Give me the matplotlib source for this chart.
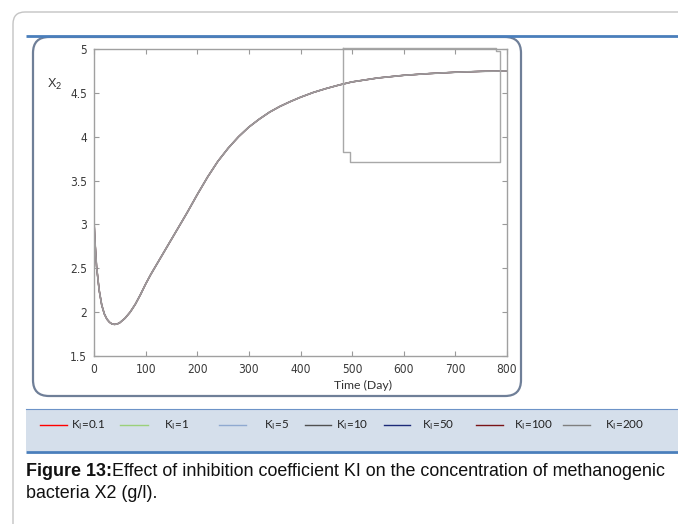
import matplotlib
matplotlib.use("Agg")
import matplotlib.pyplot as plt
from matplotlib.patches import FancyBboxPatch, Rectangle
from matplotlib.lines import Line2D

# ---- data -------------------------------------------------------------
t_days = [0, 2, 5, 10, 15, 20, 25, 30, 35, 40, 45, 50, 60, 70, 80, 90,
          100, 110, 120, 140, 160, 180, 200, 220, 240, 260, 280, 300,
          320, 340, 360, 380, 400, 425, 450, 475, 500, 550, 600, 650,
          700, 750, 800]
x2_values = [3.05, 2.80, 2.52, 2.25, 2.08, 1.98, 1.92, 1.885, 1.865, 1.86,
             1.865, 1.88, 1.93, 2.00, 2.09, 2.20, 2.32, 2.43, 2.53, 2.73,
             2.93, 3.13, 3.34, 3.54, 3.72, 3.87, 4.00, 4.11, 4.20, 4.28,
             4.345, 4.40, 4.45, 4.505, 4.55, 4.59, 4.625, 4.67, 4.70,
             4.72, 4.735, 4.745, 4.75]
ki_labels = ["0.1", "1", "5", "10", "50", "100", "200"]
ki_colors = ["#ff0000", "#9bd07a", "#8fa9d0", "#505050", "#1c2a78",
             "#7a1418", "#7f7f7f"]
x_ticks = [0, 100, 200, 300, 400, 500, 600, 700, 800]
y_ticks = [1.5, 2, 2.5, 3, 3.5, 4, 4.5, 5]
y_tick_labels = ["1.5", "2", "2.5", "3", "3.5", "4", "4.5", "5"]

W, H = 678, 524
fig = plt.figure(figsize=(W / 100, H / 100), dpi=100)
fig.patch.set_facecolor("white")

# background canvas in pixel units
bg = fig.add_axes([0, 0, 1, 1], zorder=0)
bg.set_xlim(0, W)
bg.set_ylim(H, 0)
bg.axis("off")

# outer light frame
bg.add_patch(FancyBboxPatch((13, 12), 720, 600,
                            boxstyle="round,pad=0,rounding_size=12",
                            fc="white", ec="#c4c4c4", lw=1.0))
# plot frame
bg.add_patch(FancyBboxPatch((33, 37), 488, 359,
                            boxstyle="round,pad=0,rounding_size=16",
                            fc="white", ec="#6f7f98", lw=1.6))
# blue rule at top
bg.plot([26, W], [36, 36], color="#4a7ebb", lw=2.0, solid_capstyle="butt")

# legend panel
bg.add_patch(Rectangle((26, 409), W - 26, 42, fc="#d5dfeb", ec="none"))
bg.plot([26, W], [409, 409], color="#6d93c8", lw=0.8)
bg.plot([26, W], [451.5, 451.5], color="#4a7ebb", lw=2.0, solid_capstyle="butt")

plt.rcParams["mathtext.fontset"] = "custom"
plt.rcParams["mathtext.rm"] = "Lato"
plt.rcParams["mathtext.it"] = "Lato"

leg_line_x = [(40, 67), (120, 148), (219, 246), (305, 331), (384, 410),
              (476, 503), (563, 590)]
leg_text_x = [71, 164, 264, 336, 422, 514, 605]
for (x0, x1), tx, lab, col in zip(leg_line_x, leg_text_x, ki_labels, ki_colors):
    bg.plot([x0, x1], [425, 425], color=col, lw=1.0)
    bg.text(tx, 425, r"K$_{\mathrm{I}}$=" + lab, fontsize=8.4, family="Lato",
            va="center", ha="left", color="#222222")

# caption
cap_font = dict(fontsize=12.9, family="Liberation Sans", color="#111111")
cap = bg.text(26, 471, "Figure 13:", fontweight="bold", va="center",
              ha="left", **cap_font)
bg.annotate("Effect of inhibition coefficient KI on the concentration of methanogenic",
            xy=(1, 0), xycoords=cap, va="bottom", ha="left",
            annotation_clip=False, **cap_font)
bg.text(26, 493, "bacteria X2 (g/l).", va="center", ha="left", **cap_font)

# ---- main axes --------------------------------------------------------
left, right, top, bottom = 94, 507, 49, 356
ax = fig.add_axes([left / W, 1 - bottom / H, (right - left) / W, (bottom - top) / H],
                  zorder=2)
ax.set_facecolor("none")

for lab, col in zip(ki_labels, ki_colors):
    ax.plot(t_days, x2_values, color=col, lw=1.0, alpha=0.5)
ax.plot(t_days, x2_values, color="#a6a6a6", lw=1.2, alpha=0.85)

ax.set_xlim(0, 800)
ax.set_ylim(1.5, 5)
ax.set_xticks(x_ticks)
ax.set_yticks(y_ticks)
ax.set_yticklabels(y_tick_labels)
ax.tick_params(direction="in", length=3.5, width=0.8, color="#9a9a9a",
               labelsize=8.6, labelcolor="#3a3a3a", pad=5,
               top=True, right=True)
for lbl in ax.get_xticklabels() + ax.get_yticklabels():
    lbl.set_family(["Liberation Sans Narrow", "DejaVu Sans"])
    lbl.set_fontstretch("condensed")
for s in ax.spines.values():
    s.set_color("#a0a0a0")
    s.set_linewidth(1.0)

# leftover inset outline
tr = ax.transAxes
def px(x, y):
    return ((x - left) / (right - left), (bottom - y) / (bottom - top))
outline = [(343, 48), (496, 48), (496, 51), (500, 51), (500, 162),
           (350, 162), (350, 152), (343, 152), (343, 48)]
ox, oy = zip(*[px(x, y) for x, y in outline])
ax.add_line(Line2D(ox, oy, transform=tr, color="#a8a8a8", lw=1.0, clip_on=False))

bg.text(47, 84, r"X$_{2}$", fontsize=9.2, family="Liberation Sans",
        va="center", ha="left", color="#333333")
bg.text(363, 385, "Time (Day)", fontsize=8.8, family="Lato",
        va="center", ha="center", color="#333333")

fig.savefig("out.png", dpi=100)
